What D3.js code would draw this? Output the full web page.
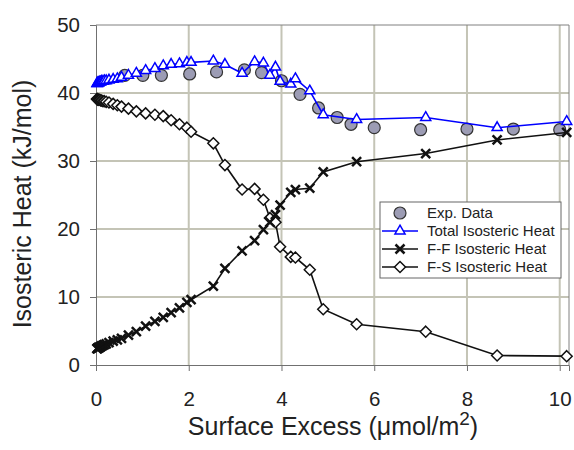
<html>
<head>
  <script src="https://cdn.jsdelivr.net/npm/d3@7"></script>
  <style>
    body { margin: 0; background: #fff; }
    text { font-family: "Liberation Sans", Arial, sans-serif; }
  </style>
</head>
<body>
 <div id="content"></div>
  <script>
    // model points (surface excess, umol/m2)
    const surfX = [0.02, 0.03, 0.04, 0.05, 0.06, 0.08, 0.10, 0.12, 0.15, 0.18, 0.22, 0.28,
                   0.37, 0.46, 0.55, 0.70, 0.87, 1.07, 1.27, 1.45, 1.62, 1.80,
                   1.96, 2.05, 2.53, 2.78, 3.15, 3.42, 3.61, 3.75, 3.87, 3.97,
                   4.20, 4.30, 4.61, 4.90, 5.62, 7.11, 8.65, 10.15]
    const totalHeat = [41.4, 41.4, 41.5, 41.5, 41.5, 41.6, 41.6, 41.7, 41.7, 41.8, 41.8, 41.9,
                       42.0, 42.1, 42.3, 42.6, 42.9, 43.3, 43.6, 44.0, 44.2, 44.3,
                       44.5, 44.5, 44.7, 44.2, 42.9, 44.6, 44.4, 42.6, 43.8, 41.7,
                       41.3, 42.1, 40.3, 36.8, 36.1, 36.4, 34.9, 35.8]
    const ffHeat = [2.4, 2.4, 2.5, 2.5, 2.6, 2.6, 2.7, 2.8, 2.9, 3.0, 3.1, 3.3,
                    3.5, 3.7, 3.9, 4.4, 4.9, 5.7, 6.4, 7.0, 7.7, 8.4,
                    9.2, 9.6, 11.6, 14.2, 16.8, 18.3, 19.9, 21.0, 22.1, 23.5,
                    25.4, 25.8, 26.0, 28.4, 29.9, 31.1, 33.1, 34.2]
    const fsHeat = [39.1, 39.1, 39.0, 39.0, 39.0, 39.0, 38.9, 38.9, 38.8, 38.8, 38.7, 38.6,
                    38.4, 38.2, 38.0, 37.7, 37.3, 37.0, 36.8, 36.6, 36.0, 35.4,
                    34.9, 34.3, 32.6, 29.4, 25.8, 25.9, 24.3, 21.6, 21.0, 17.4,
                    15.9, 15.8, 14.0, 8.2, 6.0, 4.9, 1.4, 1.3]

    // experimental points
    const expX = [0.62, 1.01, 1.41, 2.02, 2.6, 3.2, 3.57, 4.0, 4.4, 4.8, 5.2, 5.5, 6.0, 7.0, 8.0, 9.0, 10.0]
    const expHeat = [42.6, 42.6, 42.6, 42.8, 43.1, 43.4, 43.0, 41.8, 39.8, 37.8, 36.4, 35.4, 34.9, 34.6, 34.7, 34.7, 34.6]

    const xTicks = [0, 2, 4, 6, 8, 10]
    const yTicks = [0, 10, 20, 30, 40, 50]
    const legendLabels = ["Exp. Data", "Total Isosteric Heat", "F-F Isosteric Heat", "F-S Isosteric Heat"]

    width = 574
    height = 450
    margin = {top: 25, right: 5, bottom: 85, left: 96}
    gridColor = "#c4c4b6"

    const svg = d3.select("#content").append("svg")
      .attr("width", width)
      .attr("height", height)

    const x = d3.scaleLinear().domain([0, 10.2]).range([margin.left, width - margin.right])
    const y = d3.scaleLinear().domain([0, 50]).range([height - margin.bottom, margin.top])

    // grid
    svg.append("g")
      .attr("stroke", gridColor)
      .attr("stroke-width", 2)
      .call(g => g.selectAll(".gx").data(xTicks.slice(1)).join("line")
        .attr("x1", d => x(d)).attr("x2", d => x(d))
        .attr("y1", y(0)).attr("y2", y(50)))
      .call(g => g.selectAll(".gy").data(yTicks.slice(1, -1)).join("line")
        .attr("y1", d => y(d)).attr("y2", d => y(d))
        .attr("x1", x(0)).attr("x2", x(10.2)))

    // frame
    svg.append("path")
      .attr("fill", "none")
      .attr("stroke", "#808080")
      .attr("d", `M${x(0)},${y(50)}H${x(10.2)}V${y(0)}`)

    const xAxis = svg.append("g")
      .attr("transform", `translate(0,${y(0)})`)
      .call(d3.axisBottom(x).tickValues(xTicks).tickSize(6).tickPadding(20))
    const yAxis = svg.append("g")
      .attr("transform", `translate(${x(0)},0)`)
      .call(d3.axisLeft(y).tickValues(yTicks).tickSize(6).tickPadding(10))

    for (const ax of [xAxis, yAxis]) {
      ax.select(".domain").attr("stroke", "#707070")
      ax.selectAll(".tick line").attr("stroke", "#707070")
      ax.selectAll("text").attr("font-size", 20.5).attr("fill", "#222")
        .attr("font-family", "Liberation Sans, Arial, sans-serif")
    }

    svg.append("text")
      .attr("x", 333)
      .attr("y", 435)
      .attr("text-anchor", "middle")
      .attr("font-size", 25)
      .attr("fill", "#222")
      .text("Surface Excess (\u03bcmol/m")
      .call(t => t.append("tspan").attr("font-size", 19).attr("dy", -10).text("2"))
      .call(t => t.append("tspan").attr("dy", 10).text(")"))

    svg.append("text")
      .attr("transform", `translate(31,${(72 + 336) / 2}) rotate(-90)`)
      .attr("text-anchor", "middle")
      .attr("font-size", 25)
      .attr("fill", "#222")
      .text("Isosteric Heat (kJ/mol)")

    const model = surfX.map((s, i) => ({s, tot: totalHeat[i], ff: ffHeat[i], fs: fsHeat[i]}))
    const exp = expX.map((s, i) => ({s, v: expHeat[i]}))

    const triangle = d3.symbol().type(d3.symbolTriangle).size(44)
    const diamond = "M0,-5.5L5.5,0L0,5.5L-5.5,0Z"
    const cross = "M-4.5,-4.5L4.5,4.5M-4.5,4.5L4.5,-4.5"

    // exp data
    svg.append("g")
      .selectAll("circle")
      .data(exp)
      .join("circle")
      .attr("cx", d => x(d.s))
      .attr("cy", d => y(d.v))
      .attr("r", 6)
      .attr("fill", "#9c9cb4")
      .attr("stroke", "#333")
      .attr("stroke-width", 1.2)

    function series(key, color, marker, fill) {
      const line = d3.line().x(d => x(d.s)).y(d => y(d[key]))
      svg.append("path")
        .datum(model)
        .attr("fill", "none")
        .attr("stroke", color)
        .attr("stroke-width", 1.6)
        .attr("d", line)
      svg.append("g")
        .selectAll("path")
        .data(model)
        .join("path")
        .attr("transform", d => `translate(${x(d.s)},${y(d[key])})`)
        .attr("d", marker)
        .attr("fill", fill)
        .attr("stroke", color)
        .attr("stroke-width", marker === cross ? 2.5 : 1.5)
    }

    series("fs", "#111", diamond, "#fff")
    series("ff", "#111", cross, "none")
    series("tot", "#0000ff", triangle(), "#fff")

    // legend
    const lg = svg.append("g").attr("transform", "translate(380,202)")
    lg.append("rect")
      .attr("width", 181).attr("height", 76)
      .attr("fill", "#fff").attr("stroke", "#666")
    const rows = lg.selectAll("g")
      .data(legendLabels)
      .join("g")
      .attr("transform", (d, i) => `translate(0,${11 + i * 18})`)
    rows.append("text")
      .attr("x", 47)
      .attr("dy", "0.36em")
      .attr("font-size", 15)
      .attr("fill", "#222")
      .text(d => d)
    rows.filter((d, i) => i > 0).append("line")
      .attr("x1", 2).attr("x2", 38)
      .attr("stroke", (d, i) => i === 0 ? "#0000ff" : "#111")
      .attr("stroke-width", 1.6)
    rows.each(function(d, i) {
      const r = d3.select(this)
      if (i === 0) r.append("circle").attr("cx", 20).attr("r", 6).attr("fill", "#9c9cb4").attr("stroke", "#333").attr("stroke-width", 1.2)
      if (i === 1) r.append("path").attr("transform", "translate(20,0)").attr("d", triangle()).attr("fill", "#fff").attr("stroke", "#0000ff").attr("stroke-width", 1.5)
      if (i === 2) r.append("path").attr("transform", "translate(20,0)").attr("d", cross).attr("stroke", "#111").attr("stroke-width", 2.5)
      if (i === 3) r.append("path").attr("transform", "translate(20,0)").attr("d", diamond).attr("fill", "#fff").attr("stroke", "#111").attr("stroke-width", 1.5)
    })
  </script>
 </body>
</html>
